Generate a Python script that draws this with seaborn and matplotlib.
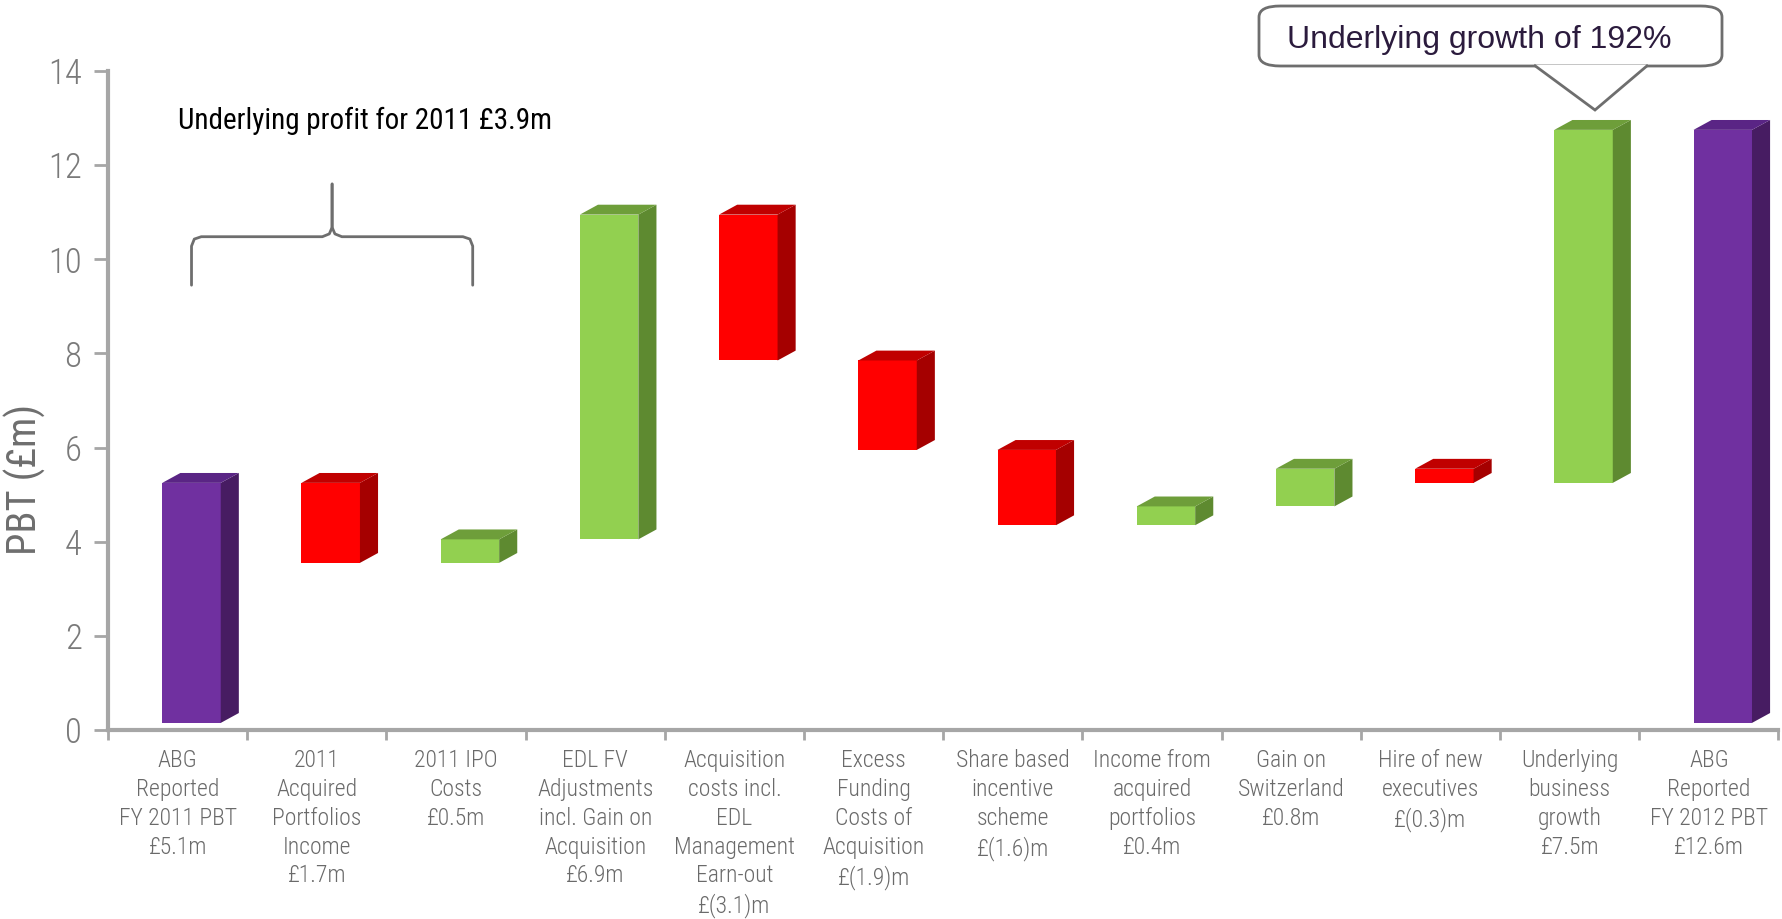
import matplotlib
matplotlib.use("Agg")
import matplotlib.pyplot as plt
import seaborn as sns
import numpy as np
from matplotlib.patches import FancyBboxPatch, Polygon

# ── Data ─────────────────────────────────────────────────────
labels = [
    "ABG\nReported\nFY 2011 PBT\n£5.1m",
    "2011\nAcquired\nPortfolios\nIncome\n£1.7m",
    "2011 IPO\nCosts\n£0.5m",
    "EDL FV\nAdjustments\nincl. Gain on\nAcquisition\n£6.9m",
    "Acquisition\ncosts incl.\nEDL\nManagement\nEarn-out\n£(3.1)m",
    "Excess\nFunding\nCosts of\nAcquisition\n£(1.9)m",
    "Share based\nincentive\nscheme\n£(1.6)m",
    "Income from\nacquired\nportfolios\n£0.4m",
    "Gain on\nSwitzerland\n£0.8m",
    "Hire of new\nexecutives\n£(0.3)m",
    "Underlying\nbusiness\ngrowth\n£7.5m",
    "ABG\nReported\nFY 2012 PBT\n£12.6m",
]
steps = [5.1, -1.7, 0.5, 6.9, -3.1, -1.9, -1.6, 0.4, 0.8, -0.3, 7.5, 12.6]
kinds = ["total", "step", "step", "step", "step", "step", "step",
         "step", "step", "step", "step", "total"]

# ── Waterfall bottoms / heights ──────────────────────────────
bottoms, heights, colors = [], [], []
running = 0.0
for s, k in zip(steps, kinds):
    if k == "total":
        bottoms.append(0.0)
        heights.append(s)
        running = s
        colors.append("purple")
    else:
        end = running + s
        bottoms.append(min(running, end))
        heights.append(abs(s))
        colors.append("green" if s > 0 else "red")
        running = end

face = {"purple": "#7030A0", "red": "#FF0000", "green": "#92D050"}
side = {"purple": "#471C62", "red": "#A50000", "green": "#5E8A30"}
top = {"purple": "#5A2585", "red": "#C00000", "green": "#6E9E3A"}

lift = 0.15   # bars float slightly above the floor
bottoms_draw = [b + lift for b in bottoms]

# ── Style ────────────────────────────────────────────────────
sns.set_theme(style="white")
narrow = ["Roboto Condensed", "Liberation Sans Narrow", "DejaVu Sans"]
plt.rcParams["font.family"] = ["Liberation Sans", "DejaVu Sans"]

fig = plt.figure(figsize=(17.82, 9.19), dpi=100)
ax = fig.add_axes([0.0606, 0.2057, 0.9374, 0.7170])

sns.barplot(x=labels, y=heights, bottom=bottoms_draw, width=0.42,
            color="#7030A0", saturation=1, ax=ax, zorder=3)

dx, dy = 0.13, 0.21
for p, c in zip(ax.patches, colors):
    p.set_x(p.get_x() + 0.10)
    p.set_facecolor(face[c])
    p.set_edgecolor("none")
    x0, w, y0, h = p.get_x(), p.get_width(), p.get_y(), p.get_height()
    ax.fill([x0 + w, x0 + w + dx, x0 + w + dx, x0 + w],
            [y0, y0 + dy, y0 + h + dy, y0 + h], color=side[c], lw=0, zorder=3)
    ax.fill([x0, x0 + dx, x0 + w + dx, x0 + w],
            [y0 + h, y0 + h + dy, y0 + h + dy, y0 + h], color=top[c], lw=0, zorder=3)

# ── Axes ─────────────────────────────────────────────────────
ax.set_xlim(-0.5, 11.5)
ax.set_ylim(0, 14)
ax.set_yticks(range(0, 15, 2))
sns.despine(ax=ax)
for sp in ["left", "bottom"]:
    ax.spines[sp].set_color("#A6A6A6")
    ax.spines[sp].set_linewidth(3)

ax.tick_params(axis="y", which="major", left=True, length=10, width=2,
               color="#A6A6A6", labelsize=25, labelcolor="#7A7A7A", pad=9)
for t in ax.get_yticklabels():
    t.set_family(narrow)
    t.set_fontweight("light")
ax.set_xticks(np.arange(-0.5, 12, 1), minor=True)
ax.tick_params(axis="x", which="minor", bottom=True, length=7, width=2,
               color="#A6A6A6")
ax.tick_params(axis="x", which="major", length=0, pad=14)
for t in ax.get_xticklabels():
    t.set_family(narrow)
    t.set_fontweight("light")
    t.set_fontsize(17)
    t.set_color("#6A6A6A")
    t.set_linespacing(1.32)
    t.set_verticalalignment("top")

ax.set_xlabel("")
ax.set_ylabel("PBT (£m)", fontsize=29, color="#6E6E6E")
ax.yaxis.label.set_family(narrow)
ax.yaxis.set_label_coords(-0.037, 0.38)

# ── Brace annotation ─────────────────────────────────────────
bx0, bx1, bxm = 0.10, 2.12, 1.11
yb, ytip, ypk = 10.48, 9.45, 11.6
r = 0.2
ax.plot([bx0, bx0, bx0 + 0.02, bx0 + 0.07, bxm - 0.07, bxm - 0.02, bxm, bxm],
        [ytip, yb - r, yb - 0.05, yb, yb, yb + 0.06, yb + r, ypk],
        color="#6E6E6E", lw=2, zorder=4)
ax.plot([bxm, bxm, bxm + 0.02, bxm + 0.07, bx1 - 0.07, bx1 - 0.02, bx1, bx1],
        [ypk, yb + r, yb + 0.06, yb, yb, yb - 0.05, yb - r, ytip],
        color="#6E6E6E", lw=2, zorder=4)
ax.text(0.0, 12.95, "Underlying profit for 2011 £3.9m", fontsize=21,
        family=narrow, color="black", va="center", ha="left")

# ── Callout box ──────────────────────────────────────────────
W, H = 1782, 919
box = FancyBboxPatch((1259 / W, 1 - 66 / H), 463 / W, 60 / H,
                     boxstyle="round,pad=0,rounding_size=0.012",
                     transform=fig.transFigure, facecolor="white",
                     edgecolor="#6E6E6E", lw=2, zorder=5)
fig.add_artist(box)
tri = Polygon([(1534 / W, 1 - 65 / H), (1595 / W, 1 - 110 / H),
               (1648 / W, 1 - 65 / H)], closed=False,
              transform=fig.transFigure, facecolor="white",
              edgecolor="#6E6E6E", lw=2, zorder=6)
fig.add_artist(tri)
fig.text(1287 / W, 1 - 40 / H, "Underlying growth of 192%", fontsize=23,
         color="#2B1B3D", va="center", ha="left", zorder=7)

plt.savefig("out.png", dpi=100)
